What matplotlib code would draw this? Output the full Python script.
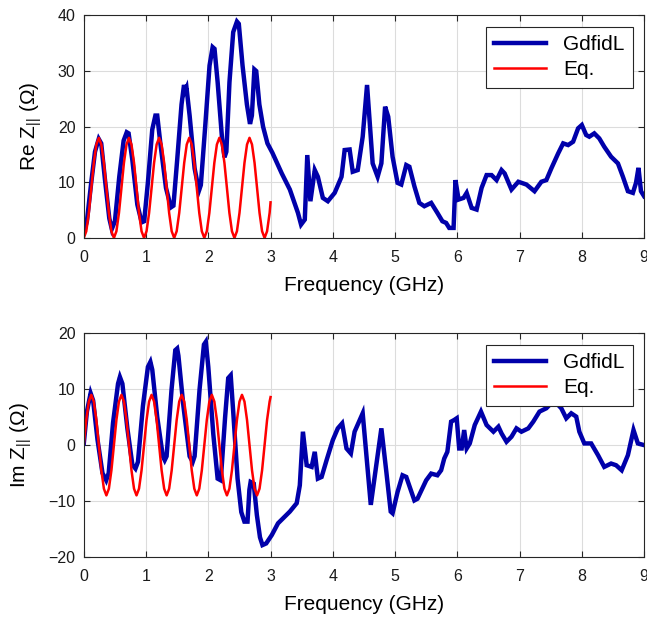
import matplotlib
matplotlib.use('Agg')
import matplotlib.pyplot as plt

BLUE = '#0000AA'
RED = '#FF0000'
AXC = '#262626'

plt.rcParams.update({
    'font.family': ['Liberation Sans', 'DejaVu Sans'],
    'mathtext.fontset': 'custom',
    'mathtext.rm': 'Liberation Sans',
    'mathtext.it': 'Liberation Sans',
    'figure.dpi': 100,
})

# GdfidL, real part (GHz, Ohm)
f_re = [0.00, 0.05, 0.12, 0.18, 0.24, 0.28, 0.34, 0.41, 0.45, 0.50, 0.57, 0.64, 0.69, 0.72,
        0.78, 0.86, 0.93, 0.97, 1.03, 1.10, 1.15, 1.18, 1.23, 1.32, 1.40, 1.44, 1.50, 1.57,
        1.61, 1.63, 1.65, 1.70, 1.78, 1.85, 1.88, 1.95, 2.02, 2.07, 2.10, 2.15, 2.22, 2.26,
        2.29, 2.34, 2.40, 2.46, 2.49, 2.55, 2.62, 2.67, 2.70, 2.74, 2.77, 2.82, 2.88, 2.95,
        3.03, 3.18, 3.31, 3.44, 3.49, 3.55, 3.59, 3.64, 3.71, 3.76, 3.84, 3.92, 4.03, 4.14,
        4.19, 4.27, 4.32, 4.40, 4.48, 4.55, 4.64, 4.72, 4.78, 4.84, 4.89, 4.96, 5.04, 5.10,
        5.18, 5.23, 5.31, 5.39, 5.47, 5.58, 5.68, 5.76, 5.82, 5.87, 5.94, 5.97, 6.02, 6.10,
        6.15, 6.23, 6.31, 6.39, 6.47, 6.55, 6.63, 6.71, 6.76, 6.87, 6.98, 7.11, 7.24, 7.35,
        7.43, 7.51, 7.62, 7.70, 7.78, 7.86, 7.94, 8.00, 8.07, 8.12, 8.20, 8.28, 8.36, 8.47,
        8.58, 8.66, 8.74, 8.82, 8.87, 8.91, 8.95, 9.00]
re_gdfidl = [0.9, 3.0, 10.0, 15.5, 17.8, 17.0, 10.5, 3.5, 1.6, 3.0, 11.0, 17.5, 19.0, 18.8,
             14.0, 6.0, 2.8, 3.0, 10.0, 19.5, 22.0, 22.0, 17.0, 9.0, 5.5, 5.8, 14.0, 24.0,
             27.5, 26.5, 27.0, 22.0, 12.5, 8.5, 9.5, 20.0, 31.0, 34.3, 34.0, 28.0, 18.0, 14.5,
             15.5, 28.0, 37.0, 38.9, 38.5, 31.0, 24.0, 20.5, 22.0, 30.3, 30.0, 24.0, 20.0, 17.0,
             15.3, 11.6, 8.7, 4.5, 2.4, 3.3, 14.9, 6.6, 12.2, 11.0, 7.2, 6.6, 8.1, 11.0,
             15.8, 15.9, 11.9, 12.2, 18.2, 27.5, 13.4, 11.0, 13.4, 23.6, 21.8, 14.6, 9.9, 9.6,
             13.1, 12.8, 9.3, 6.3, 5.7, 6.3, 4.5, 3.0, 2.7, 1.8, 1.8, 10.4, 6.9, 7.2,
             8.1, 5.4, 5.1, 9.0, 11.3, 11.3, 10.4, 12.2, 11.6, 8.7, 10.1, 9.6, 8.4, 10.1,
             10.4, 12.5, 15.2, 17.0, 16.7, 17.3, 19.7, 20.3, 18.5, 18.2, 18.8, 17.9, 16.4, 14.6,
             13.4, 11.0, 8.4, 8.1, 9.9, 12.6, 8.4, 7.5]

# GdfidL, imaginary part
f_im = [0.00, 0.05, 0.11, 0.15, 0.22, 0.30, 0.36, 0.40, 0.47, 0.55, 0.58, 0.62, 0.70, 0.78,
        0.83, 0.87, 0.95, 1.03, 1.07, 1.10, 1.18, 1.27, 1.30, 1.33, 1.41, 1.47, 1.50, 1.52,
        1.60, 1.70, 1.75, 1.78, 1.86, 1.93, 1.96, 2.00, 2.08, 2.15, 2.20, 2.27, 2.32, 2.36,
        2.40, 2.47, 2.53, 2.58, 2.63, 2.66, 2.68, 2.73, 2.78, 2.83, 2.87, 2.93, 3.02, 3.12,
        3.23, 3.31, 3.42, 3.47, 3.52, 3.58, 3.66, 3.71, 3.76, 3.82, 3.90, 4.00, 4.08, 4.15,
        4.22, 4.29, 4.35, 4.48, 4.61, 4.78, 4.86, 4.93, 4.96, 5.04, 5.12, 5.18, 5.31, 5.36,
        5.50, 5.58, 5.68, 5.74, 5.79, 5.84, 5.90, 5.95, 5.99, 6.03, 6.07, 6.11, 6.15, 6.20,
        6.28, 6.38, 6.47, 6.58, 6.66, 6.71, 6.79, 6.87, 6.95, 7.03, 7.14, 7.22, 7.32, 7.43,
        7.55, 7.67, 7.75, 7.83, 7.91, 7.96, 8.04, 8.15, 8.26, 8.36, 8.47, 8.55, 8.64, 8.74,
        8.83, 8.90, 9.00]
im_gdfidl = [0.3, 6.0, 9.3, 8.0, 1.0, -5.0, -6.3, -5.0, 4.0, 11.0, 12.2, 11.0, 3.0, -3.5,
             -4.2, -3.0, 7.0, 14.0, 14.9, 13.5, 5.0, -2.0, -2.7, -2.0, 10.0, 17.0, 17.3, 16.0,
             7.0, -2.0, -3.0, -2.0, 10.0, 18.0, 18.5, 14.0, 2.0, -6.0, -6.3, 5.0, 12.0, 12.5,
             6.0, -6.0, -12.0, -13.7, -13.7, -8.0, -6.6, -6.9, -12.5, -16.5, -17.9, -17.6, -16.1, -14.0,
             -12.8, -11.9, -10.4, -7.2, 2.4, -3.6, -3.9, -1.2, -6.0, -5.7, -2.7, 0.9, 3.0, 3.9,
             -0.6, -1.5, 2.4, 5.7, -10.7, 3.0, -4.8, -11.9, -12.2, -8.4, -5.4, -5.7, -9.9, -9.6,
             -6.3, -5.1, -5.4, -4.5, -2.4, -1.2, 4.2, 4.5, 4.8, -0.6, -0.6, 2.7, -0.6, 0.3,
             3.6, 6.0, 3.6, 2.4, 3.3, 2.1, 0.6, 1.5, 3.0, 2.4, 3.0, 4.2, 6.0, 6.6,
             8.0, 6.6, 4.8, 5.7, 5.1, 2.4, 0.3, 0.3, -1.8, -3.9, -3.3, -3.6, -4.5, -1.8,
             2.7, 0.3, 0.0]

# Eq. curve
f_eq = [0.000, 0.040, 0.081, 0.121, 0.161, 0.202, 0.242, 0.282, 0.323, 0.363, 0.403, 0.444,
        0.484, 0.524, 0.565, 0.605, 0.645, 0.686, 0.726, 0.766, 0.807, 0.847, 0.887, 0.928,
        0.968, 1.008, 1.049, 1.089, 1.129, 1.170, 1.210, 1.250, 1.291, 1.331, 1.371, 1.412,
        1.452, 1.492, 1.533, 1.573, 1.613, 1.654, 1.694, 1.734, 1.775, 1.815, 1.855, 1.896,
        1.936, 1.976, 2.017, 2.057, 2.097, 2.138, 2.178, 2.218, 2.259, 2.299, 2.339, 2.380,
        2.420, 2.460, 2.501, 2.541, 2.581, 2.622, 2.662, 2.702, 2.743, 2.783, 2.823, 2.864,
        2.904, 2.944, 2.985, 3.000]
re_eq = [0, 1.2, 4.5, 9, 13.5, 16.8, 18, 16.8, 13.5, 9, 4.5, 1.2,
         0, 1.2, 4.5, 9, 13.5, 16.8, 18, 16.8, 13.5, 9, 4.5, 1.2,
         0, 1.2, 4.5, 9, 13.5, 16.8, 18, 16.8, 13.5, 9, 4.5, 1.2,
         0, 1.2, 4.5, 9, 13.5, 16.8, 18, 16.8, 13.5, 9, 4.5, 1.2,
         0, 1.2, 4.5, 9, 13.5, 16.8, 18, 16.8, 13.5, 9, 4.5, 1.2,
         0, 1.2, 4.5, 9, 13.5, 16.8, 18, 16.8, 13.5, 9, 4.5, 1.2,
         0, 1.2, 4.5, 6.4]
im_eq = [0, 4.5, 7.8, 9, 7.8, 4.5, 0, -4.5, -7.8, -9, -7.8, -4.5,
         0, 4.5, 7.8, 9, 7.8, 4.5, 0, -4.5, -7.8, -9, -7.8, -4.5,
         0, 4.5, 7.8, 9, 7.8, 4.5, 0, -4.5, -7.8, -9, -7.8, -4.5,
         0, 4.5, 7.8, 9, 7.8, 4.5, 0, -4.5, -7.8, -9, -7.8, -4.5,
         0, 4.5, 7.8, 9, 7.8, 4.5, 0, -4.5, -7.8, -9, -7.8, -4.5,
         0, 4.5, 7.8, 9, 7.8, 4.5, 0, -4.5, -7.8, -9, -7.8, -4.5,
         0, 4.5, 7.8, 8.6]

fig = plt.figure(figsize=(6.47, 6.18))
ax1 = fig.add_axes([0.1295, 0.615, 0.866, 0.360])
ax2 = fig.add_axes([0.1295, 0.099, 0.866, 0.3615])

panels = [
    (ax1, f_re, re_gdfidl, re_eq, (0, 40), [0, 10, 20, 30, 40], r'Re Z$_{||}$ ($\Omega$)'),
    (ax2, f_im, im_gdfidl, im_eq, (-20, 20), [-20, -10, 0, 10, 20], r'Im Z$_{||}$ ($\Omega$)'),
]
for ax, fx, gd, eq, ylim, yt, ylab in panels:
    ax.plot(fx, gd, color=BLUE, lw=3.2, label='GdfidL', solid_joinstyle='miter')
    ax.plot(f_eq, eq, color=RED, lw=1.8, label='Eq.')
    ax.set_xlim(0, 9); ax.set_ylim(*ylim)
    ax.set_xticks(range(10)); ax.set_yticks(yt)
    ax.grid(True, color='#dcdcdc', lw=0.8)
    ax.set_axisbelow(True)
    for s in ax.spines.values():
        s.set_color(AXC); s.set_linewidth(0.8)
    ax.tick_params(direction='in', length=4, top=True, right=True, labelsize=11.5,
                   color=AXC, labelcolor='#1a1a1a')
    ax.tick_params(axis='x', pad=8.5)
    ax.tick_params(axis='y', pad=6)
    ax.set_xlabel('Frequency (GHz)', fontsize=15, labelpad=8)
    ax.set_ylabel(ylab, fontsize=15, labelpad=10)
    leg = ax.legend(loc='upper right', fontsize=15, fancybox=False, framealpha=1,
                    edgecolor=AXC, handlelength=2.5, handletextpad=0.8,
                    borderaxespad=0.55, borderpad=0.4, labelspacing=0.3)
    leg.get_frame().set_linewidth(0.8)

fig.savefig('out.png', dpi=100)
